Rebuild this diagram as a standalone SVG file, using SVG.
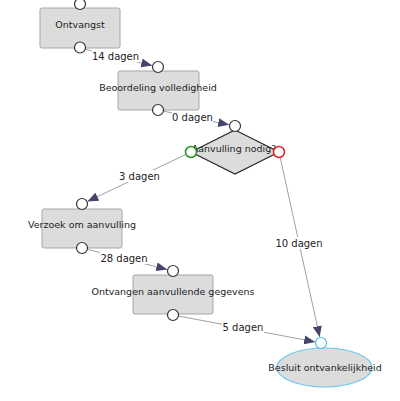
<svg xmlns="http://www.w3.org/2000/svg" width="400" height="401" viewBox="0 0 400 401">
<defs>
<style>
.box{fill:#dcdcdc;stroke:#a6a6a6;stroke-width:1}
.port{fill:#fff;stroke:#333;stroke-width:1.2}
.t{font-family:"DejaVu Sans",Verdana,sans-serif;font-size:9.5px;fill:#222;text-anchor:middle}
.lt{font-size:10px}
.edge{stroke:#a0a0a0;stroke-width:1;fill:none;marker-end:url(#arr)}
.lbg{fill:#fff}
</style>
<marker id="arr" markerWidth="11" markerHeight="9" refX="11" refY="4.5" orient="auto" markerUnits="userSpaceOnUse">
<path d="M0,0 L11,4.5 L0,9 Z" fill="#45446a"/>
</marker>
</defs>
<rect width="400" height="401" fill="#fff"/>
<g id="connectors">
<line class="edge" x1="85.3" y1="49.3" x2="152.2" y2="65.6"/>
<line class="edge" x1="163.4" y1="111.1" x2="229.1" y2="124.8"/>
<line class="edge" x1="186" y1="154.4" x2="87.4" y2="201.4"/>
<line class="edge" x1="87.3" y1="249.3" x2="167.2" y2="269.5"/>
<line class="edge" x1="178.4" y1="316" x2="315.1" y2="341.9"/>
<line class="edge" x1="280.2" y1="157.4" x2="319.7" y2="337.1"/>
<rect class="lbg" x="92" y="50" width="47" height="12"/>
<text class="t lt" x="115.5" y="59.5">14 dagen</text>
<rect class="lbg" x="172" y="111" width="41" height="12"/>
<text class="t lt" x="192.5" y="120.5">0 dagen</text>
<rect class="lbg" x="119" y="170" width="41" height="12"/>
<text class="t lt" x="139.5" y="179.5">3 dagen</text>
<rect class="lbg" x="100" y="252" width="48" height="12"/>
<text class="t lt" x="124" y="261.5">28 dagen</text>
<rect class="lbg" x="222" y="321" width="42" height="12"/>
<text class="t lt" x="243" y="330.5">5 dagen</text>
<rect class="lbg" x="275" y="237" width="48" height="12"/>
<text class="t lt" x="299" y="246.5">10 dagen</text>
</g>
<g id="ontvangst">
<rect class="box" x="40" y="8" width="80" height="40" rx="2"/>
<text class="t" x="80" y="27.5">Ontvangst</text>
<circle class="port" cx="80" cy="4" r="5.5"/>
<circle class="port" cx="80" cy="47.5" r="5.5"/>
</g>
<g id="beoordeling">
<rect class="box" x="118" y="71" width="81" height="39" rx="2"/>
<text class="t" x="158" y="90.5">Beoordeling volledigheid</text>
<circle class="port" cx="158" cy="67" r="5.5"/>
<circle class="port" cx="158" cy="110" r="5.5"/>
</g>
<g id="aanvulling-nodig">
<polygon points="235,130 279,152 235,174 191,152" fill="#dcdcdc" stroke="#2a2a2a" stroke-width="1.2"/>
<text class="t" x="234" y="151.5">Aanvulling nodig?</text>
<circle class="port" cx="235" cy="126" r="5.5"/>
<circle cx="191" cy="152" r="5.5" fill="#fff" stroke="#1a9a1a" stroke-width="1.5"/>
<circle cx="279" cy="152" r="5.5" fill="#fff" stroke="#e52020" stroke-width="1.5"/>
</g>
<g id="verzoek">
<rect class="box" x="42" y="209" width="80" height="39" rx="2"/>
<text class="t" x="82" y="227.5">Verzoek om aanvulling</text>
<circle class="port" cx="82" cy="204" r="5.5"/>
<circle class="port" cx="82" cy="248" r="5.5"/>
</g>
<g id="ontvangen">
<rect class="box" x="133" y="275" width="80" height="39" rx="2"/>
<text class="t" x="173" y="294.5">Ontvangen aanvullende gegevens</text>
<circle class="port" cx="173" cy="271" r="5.5"/>
<circle class="port" cx="173" cy="315" r="5.5"/>
</g>
<g id="besluit">
<ellipse cx="324.5" cy="367.5" rx="47.5" ry="19.5" fill="#dcdcdc" stroke="#6cc8ee" stroke-width="1.2"/>
<text class="t" x="325" y="370.5">Besluit ontvankelijkheid</text>
<circle cx="321" cy="343" r="5.5" fill="#fff" stroke="#4bb8ea" stroke-width="1.2"/>
</g>
</svg>
